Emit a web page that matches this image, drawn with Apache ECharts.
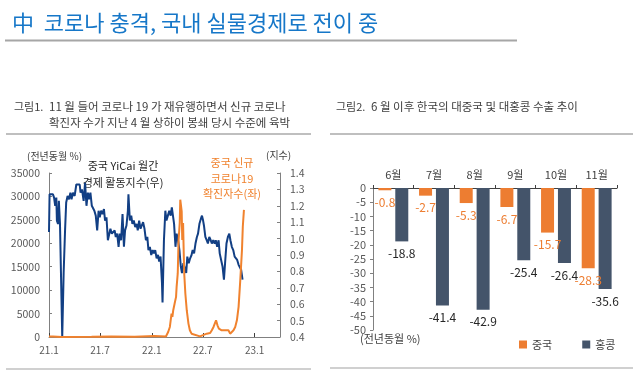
<!DOCTYPE html>
<html><head><meta charset="utf-8">
<script src="https://cdn.jsdelivr.net/npm/echarts@6/dist/echarts.min.js"></script>
<style>html,body{margin:0;padding:0;background:#fff}#c{width:640px;height:380px}</style>
</head><body><div id="c"></div>
<script>
// ---- Left chart data ----
const blueDates = ['2021-01-01','2021-01-03','2021-01-09','2021-01-15','2021-01-19','2021-01-23','2021-01-27','2021-01-29','2021-02-02','2021-02-05','2021-02-09','2021-02-12','2021-02-17','2021-02-22','2021-02-27','2021-03-03','2021-03-08','2021-03-13','2021-03-18','2021-03-22','2021-03-27','2021-04-02','2021-04-08','2021-04-14','2021-04-20','2021-04-23','2021-04-28','2021-05-04','2021-05-09','2021-05-14','2021-05-19','2021-05-23','2021-05-28','2021-06-02','2021-06-07','2021-06-11','2021-06-16','2021-06-21','2021-06-26','2021-06-30','2021-07-05','2021-07-10','2021-07-15','2021-07-19','2021-07-24','2021-07-29','2021-08-03','2021-08-07','2021-08-12','2021-08-17','2021-08-22','2021-08-26','2021-08-31','2021-09-05','2021-09-09','2021-09-14','2021-09-19','2021-09-24','2021-09-28','2021-10-03','2021-10-08','2021-10-10','2021-10-15','2021-10-20','2021-10-24','2021-10-29','2021-11-03','2021-11-08','2021-11-12','2021-11-17','2021-11-22','2021-11-27','2021-12-01','2021-12-06','2021-12-11','2021-12-16','2021-12-20','2021-12-25','2021-12-30','2022-01-04','2022-01-08','2022-01-13','2022-01-18','2022-01-23','2022-01-27','2022-02-01','2022-02-06','2022-02-08','2022-02-13','2022-02-18','2022-02-22','2022-02-27','2022-03-04','2022-03-09','2022-03-13','2022-03-17','2022-03-21','2022-03-26','2022-03-30','2022-04-04','2022-04-09','2022-04-14','2022-04-18','2022-04-23','2022-04-28','2022-05-03','2022-05-07','2022-05-12','2022-05-17','2022-05-22','2022-05-26','2022-05-31','2022-06-05','2022-06-10','2022-06-14','2022-06-19','2022-06-24','2022-06-28','2022-07-02','2022-07-05','2022-07-10','2022-07-15','2022-07-19','2022-07-24','2022-07-29','2022-08-02','2022-08-07','2022-08-12','2022-08-16','2022-08-21','2022-08-26','2022-08-30','2022-09-04','2022-09-09','2022-09-14','2022-09-18','2022-09-23','2022-09-28','2022-10-03','2022-10-07','2022-10-12','2022-10-17','2022-10-22','2022-10-26','2022-10-31','2022-11-05','2022-11-10','2022-11-14','2022-11-19'];
const blueValues = [1.04,1.27,1.26,1.27,1.25,1.20,1.25,1.11,1.09,1.23,1.09,0.83,0.40,0.79,1.05,1.22,1.26,1.24,1.28,1.24,1.28,1.26,1.33,1.32,1.33,1.28,1.30,1.23,1.34,1.20,1.28,1.24,1.28,1.20,1.21,1.17,1.14,1.05,1.17,1.13,1.17,1.15,1.18,1.11,1.13,0.99,1.03,1.06,1.03,1.02,1.05,1.01,1.03,0.95,1.03,0.99,1.15,0.95,1.05,1.08,1.17,1.27,1.11,1.14,1.09,1.11,1.07,1.09,1.05,1.11,1.06,1.07,1.10,1.06,0.99,1.01,0.93,0.95,0.90,0.93,0.91,0.93,0.88,0.90,0.86,0.89,0.73,0.61,0.99,1.17,1.11,1.14,1.17,1.14,1.19,1.20,1.09,0.95,1.03,0.99,0.93,0.83,0.79,0.85,0.82,0.79,0.89,0.85,0.88,0.90,0.93,0.91,0.97,1.01,1.03,1.09,1.12,1.14,1.11,1.08,1.01,0.99,0.97,1.01,0.99,0.97,0.99,0.97,0.99,0.95,0.99,0.91,0.87,0.83,0.75,0.85,0.97,1.01,1.03,0.99,0.95,0.93,0.89,0.90,0.87,0.84,0.85,0.81,0.75];
const orangeDates = ['2021-01-01','2021-01-15','2021-02-15','2021-06-01','2021-08-10','2021-11-01','2022-01-10','2022-02-20','2022-02-28','2022-03-06','2022-03-12','2022-03-15','2022-03-18','2022-03-23','2022-03-28','2022-03-30','2022-04-03','2022-04-06','2022-04-10','2022-04-12','2022-04-14','2022-04-17','2022-04-19','2022-04-22','2022-04-24','2022-04-26','2022-04-30','2022-05-05','2022-05-11','2022-05-16','2022-05-22','2022-05-28','2022-06-21','2022-07-15','2022-07-21','2022-07-27','2022-08-02','2022-08-08','2022-08-14','2022-08-17','2022-08-22','2022-08-27','2022-08-31','2022-09-06','2022-09-12','2022-09-18','2022-09-24','2022-09-30','2022-10-06','2022-10-12','2022-10-18','2022-10-24','2022-10-30','2022-11-05','2022-11-11','2022-11-17','2022-11-20','2022-11-24'];
const orangeValues = [100,120,20,30,100,60,200,100,1070,2140,5000,4290,5710,7140,8570,10700,13570,20700,24300,29300,29600,26800,20700,24300,18600,13600,9290,5710,2860,1430,710,360,140,710,1070,860,1430,2140,1790,3570,2500,1790,2140,1430,1070,1430,1070,1430,710,1070,1430,2140,3570,6430,12140,18570,23570,27140];
const xTickDates = ['2021-01-01','2021-07-01','2022-01-01','2022-07-01','2023-01-01'];

// ---- Right chart data ----
const months = ['6월','7월','8월','9월','10월','11월'];
const chinaExports = [-0.8,-2.7,-5.3,-6.7,-15.7,-28.3];
const hkExports = [-18.8,-41.4,-42.9,-25.4,-26.4,-35.6];

const FONT = '"Noto Sans CJK KR", "Noto Sans", sans-serif';
const GRAY = '#595959';
const BLUE = '#123F84';
const ORANGE = '#F0822E';
const BAR_OR = '#ED7D31';
const BAR_DK = '#44546A';

function toTs(s){const p=s.split('-').map(Number);return new Date(p[0],p[1]-1,p[2]).getTime();}
const xTicks = xTickDates.map(toTs);

const chart = echarts.init(document.getElementById('c'), null, {renderer:'canvas'});
const txt = (x,y,t,opt)=>({type:'text',x:x,y:y,style:Object.assign({text:t,font:'11px '+FONT,fill:'#404040',textAlign:'left',textVerticalAlign:'middle'},opt||{})});
const line = (x1,y1,x2,y2,c,w)=>({type:'line',shape:{x1,y1,x2,y2},style:{stroke:c,lineWidth:w}});

chart.setOption({
  animation:false,
  textStyle:{fontFamily:FONT},
  graphic:[
    {type:'text',x:12,y:23,style:{text:'中  코로나 충격, 국내 실물경제로 전이 중',font:'22px '+FONT,fill:'#1677C8',textVerticalAlign:'middle'}},
    line(5,40.5,517,40.5,'#A6A6A6',2),
    txt(14,107,'그림1.',{font:'11px '+FONT}),
    txt(49,107,'11 월 들어 코로나 19 가 재유행하면서 신규 코로나',{font:'11.5px '+FONT}),
    txt(49,123,'확진자 수가 지난 4 월 상하이 봉쇄 당시 수준에 육박',{font:'11.5px '+FONT}),
    line(6,134,311,134,'#BFBFBF',2),
    txt(336,107,'그림2.',{font:'11px '+FONT}),
    txt(371,107,'6 월 이후 한국의 대중국 및 대홍콩 수출 추이',{font:'11.5px '+FONT}),
    line(330,134,633,134,'#BFBFBF',2),
    line(6,369,311,369,'#D0D0D0',2),
    line(330,368,633,368,'#D0D0D0',2),
    txt(27,156,'(전년동월 %)',{font:'10px '+FONT,fill:'#404040'}),
    txt(266,155,'(지수)',{font:'10px '+FONT,fill:'#404040'}),
    txt(123,166,'중국 YiCai 월간',{textAlign:'center',fill:'#262626'}),
    txt(123,183,'경제 활동지수(우)',{textAlign:'center',fill:'#262626'}),
    txt(232,163,'중국 신규',{textAlign:'center',fill:ORANGE}),
    txt(232,179,'코로나19',{textAlign:'center',fill:ORANGE}),
    txt(232,194,'확진자수(좌)',{textAlign:'center',fill:ORANGE}),
    txt(360,339,'(전년동월 %)',{font:'11px '+FONT,fill:'#404040'})
  ],
  legend:{
    data:['중국','홍콩'], left:514, top:334, itemWidth:8, itemHeight:8, icon:'rect', itemGap:30,
    textStyle:{fontSize:11,color:'#404040',fontFamily:FONT}
  },
  grid:[
    {left:49,top:173,width:231,height:164,containLabel:false},
    {left:373,top:188,width:244,height:142,containLabel:false}
  ],
  xAxis:[
    {gridIndex:0,type:'value',min:toTs('2021-01-01'),max:toTs('2023-04-01'),
     axisLine:{lineStyle:{color:'#808080',width:1}},
     axisTick:{show:true,inside:true,length:4,customValues:xTicks,lineStyle:{color:'#404040'}},
     axisLabel:{customValues:xTicks,color:GRAY,fontSize:10,margin:8,
       formatter:function(v){const d=new Date(v);return (d.getFullYear()%100)+'.'+(d.getMonth()+1);}},
     splitLine:{show:false}},
    {gridIndex:1,type:'category',data:months,position:'top',
     axisLine:{onZero:false,lineStyle:{color:'#404040'}},
     axisTick:{show:true,length:3,alignWithLabel:false,lineStyle:{color:'#404040'}},
     axisLabel:{color:'#404040',fontSize:11,margin:8}}
  ],
  yAxis:[
    {gridIndex:0,type:'value',min:0,max:35000,interval:5000,
     axisLine:{show:true,lineStyle:{color:'#808080'}},
     axisTick:{show:true,inside:true,length:3,lineStyle:{color:'#808080'}},
     axisLabel:{color:GRAY,fontSize:10.5,margin:9,formatter:v=>String(v)},splitLine:{show:false}},
    {gridIndex:0,type:'value',min:0.4,max:1.4,interval:0.1,position:'right',
     axisLine:{show:true,lineStyle:{color:'#808080'}},
     axisTick:{show:true,inside:true,length:3,lineStyle:{color:'#808080'}},
     axisLabel:{color:GRAY,fontSize:10.5,margin:10,formatter:v=>v.toFixed(1)},splitLine:{show:false}},
    {gridIndex:1,type:'value',min:-50,max:0,interval:5,
     axisLine:{show:true,lineStyle:{color:'#808080'}},
     axisTick:{show:true,length:3,lineStyle:{color:'#808080'}},
     axisLabel:{color:GRAY,fontSize:11,margin:7},splitLine:{show:false}}
  ],
  series:[
    {name:'경제활동지수',type:'line',xAxisIndex:0,yAxisIndex:1,showSymbol:false,symbol:'none',
     data:blueDates.map((d,i)=>[toTs(d),blueValues[i]]),lineStyle:{color:BLUE,width:2},z:2},
    {name:'확진자수',type:'line',xAxisIndex:0,yAxisIndex:0,showSymbol:false,symbol:'none',
     data:orangeDates.map((d,i)=>[toTs(d),orangeValues[i]]),lineStyle:{color:ORANGE,width:2},z:3},
    {name:'중국',type:'bar',xAxisIndex:1,yAxisIndex:2,data:chinaExports,barWidth:13,barGap:'30%',
     itemStyle:{color:BAR_OR},
     label:{show:true,position:'bottom',distance:6,color:BAR_OR,fontSize:12,fontFamily:FONT}},
    {name:'홍콩',type:'bar',xAxisIndex:1,yAxisIndex:2,data:hkExports,barWidth:13,barGap:'30%',
     itemStyle:{color:BAR_DK},
     label:{show:true,position:'bottom',distance:6,color:'#262626',fontSize:12,fontFamily:FONT}}
  ]
});
</script></body></html>
